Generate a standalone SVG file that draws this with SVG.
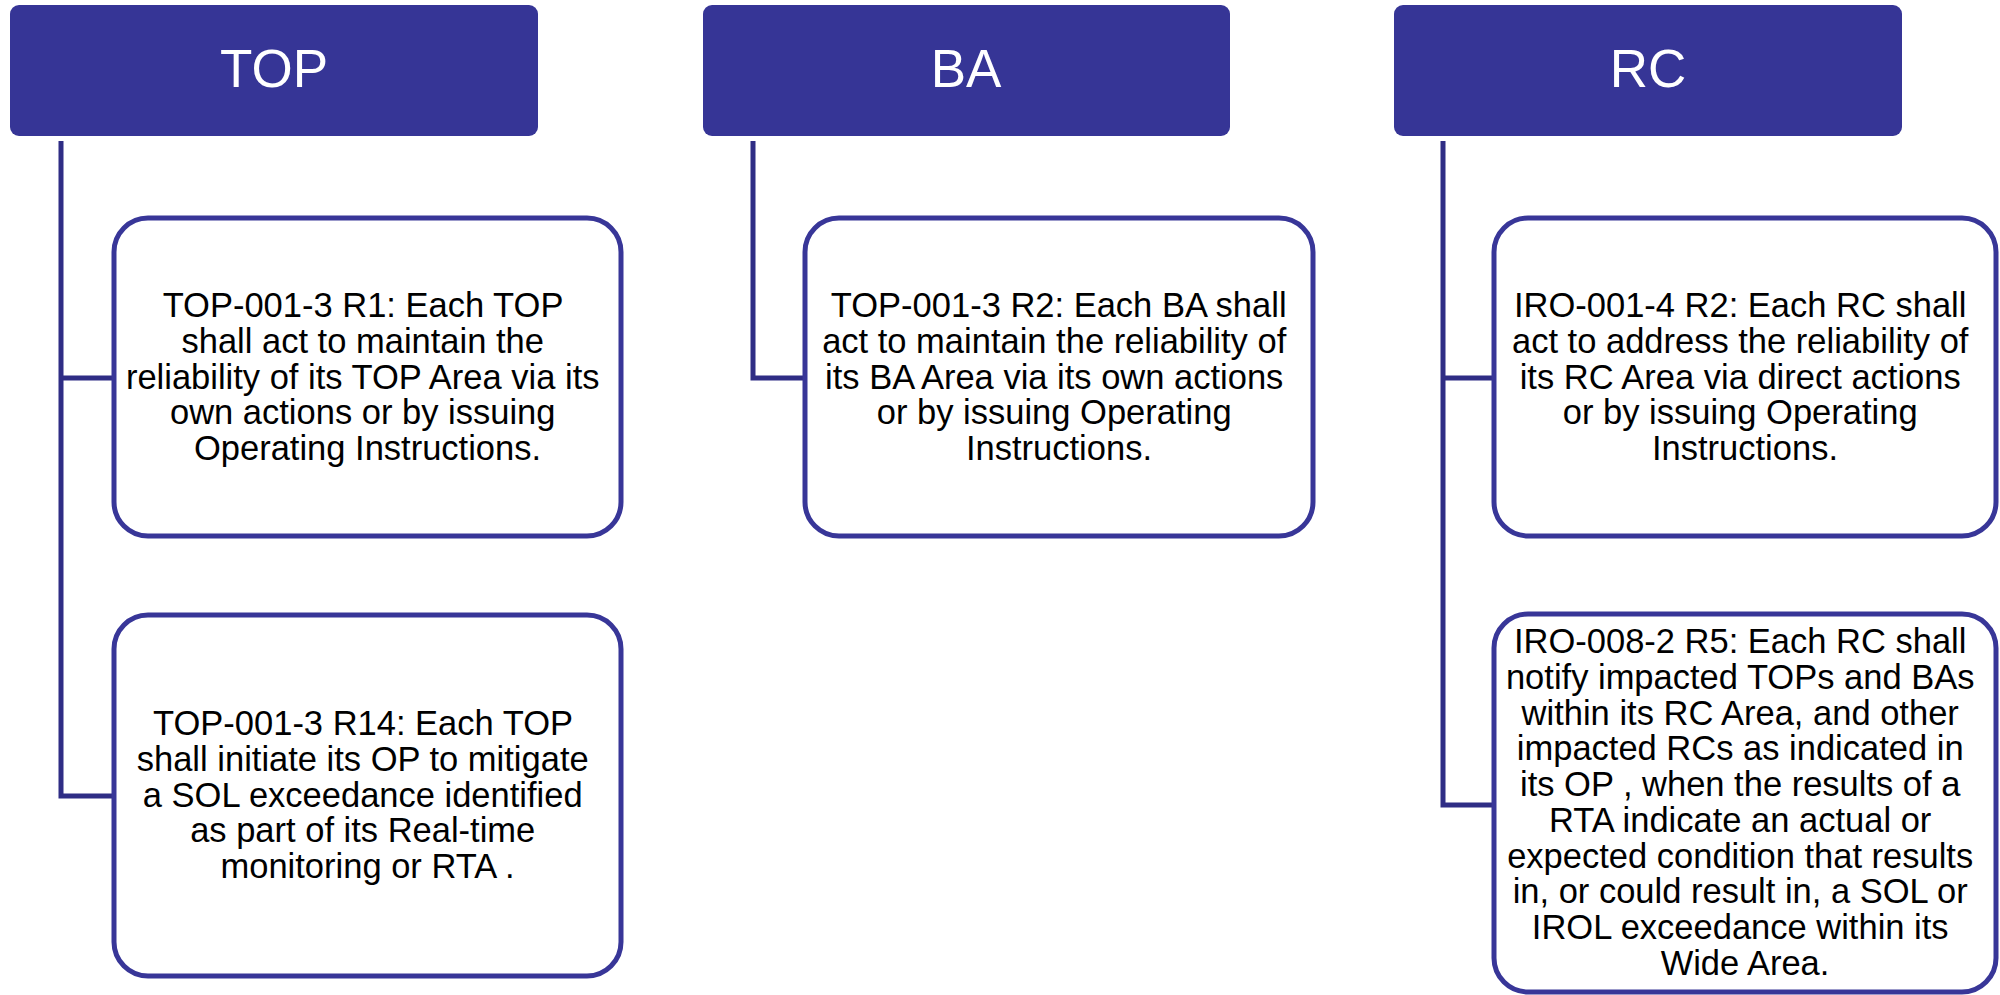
<svg xmlns="http://www.w3.org/2000/svg" width="2000" height="995" viewBox="0 0 2000 995">
  <style>
    .hdr { fill: #363596; }
    .hdr-text { font-family: "Liberation Sans", Arial, sans-serif; font-size: 53px; fill: #ffffff; text-anchor: middle; }
    .box { fill: #ffffff; stroke: #383698; stroke-width: 5; }
    .body { font-family: "Liberation Sans", Arial, sans-serif; font-size: 34.5px; fill: #000000; text-anchor: middle; }
    .conn { fill: none; stroke: #2f2d85; stroke-width: 5; stroke-linejoin: miter; }
  </style>
  <rect width="2000" height="995" fill="#ffffff"/>

  <!-- connectors from each header down to its requirement boxes -->
  <g id="connectors">
    <path class="conn" d="M61,141 V796 H114 M61,378 H114"/>
    <path class="conn" d="M753,141 V378 H805"/>
    <path class="conn" d="M1443,141 V805 H1494 M1443,378 H1494"/>
  </g>

  <!-- column headers -->
  <g id="header-top">
    <rect class="hdr" x="10" y="5" width="528" height="131" rx="9"/>
    <text class="hdr-text" x="274" y="87">TOP</text>
  </g>
  <g id="header-ba">
    <rect class="hdr" x="703" y="5" width="527" height="131" rx="9"/>
    <text class="hdr-text" x="966" y="87">BA</text>
  </g>
  <g id="header-rc">
    <rect class="hdr" x="1394" y="5" width="508" height="131" rx="9"/>
    <text class="hdr-text" x="1648" y="87">RC</text>
  </g>

  <!-- TOP requirements -->
  <g id="top-r1">
    <rect class="box" x="114" y="218" width="507" height="318" rx="34"/>
    <text class="body">
      <tspan x="367.5" y="317">TOP-001-3 R1: Each TOP</tspan>
      <tspan x="367.5" y="353">shall act to maintain the</tspan>
      <tspan x="367.5" y="389">reliability of its TOP Area via its</tspan>
      <tspan x="367.5" y="424">own actions or by issuing</tspan>
      <tspan x="367.5" y="460">Operating Instructions.</tspan>
    </text>
  </g>
  <g id="top-r14">
    <rect class="box" x="114" y="615" width="507" height="361" rx="34"/>
    <text class="body">
      <tspan x="367.5" y="735">TOP-001-3 R14: Each TOP</tspan>
      <tspan x="367.5" y="771">shall initiate its OP to mitigate</tspan>
      <tspan x="367.5" y="807">a SOL exceedance identified</tspan>
      <tspan x="367.5" y="842">as part of its Real-time</tspan>
      <tspan x="367.5" y="878">monitoring or RTA .</tspan>
    </text>
  </g>

  <!-- BA requirement -->
  <g id="ba-r2">
    <rect class="box" x="805" y="218" width="508" height="318" rx="34"/>
    <text class="body">
      <tspan x="1059" y="317" xml:space="preserve"> TOP-001-3 R2: Each BA shall</tspan>
      <tspan x="1059" y="353">act to maintain the reliability of</tspan>
      <tspan x="1059" y="389">its BA Area via its own actions</tspan>
      <tspan x="1059" y="424">or by issuing Operating</tspan>
      <tspan x="1059" y="460">Instructions.</tspan>
    </text>
  </g>

  <!-- RC requirements -->
  <g id="rc-r2">
    <rect class="box" x="1494" y="218" width="502" height="318" rx="34"/>
    <text class="body">
      <tspan x="1745" y="317">IRO-001-4 R2: Each RC shall</tspan>
      <tspan x="1745" y="353">act to address the reliability of</tspan>
      <tspan x="1745" y="389">its RC Area via direct actions</tspan>
      <tspan x="1745" y="424">or by issuing Operating</tspan>
      <tspan x="1745" y="460">Instructions.</tspan>
    </text>
  </g>
  <g id="rc-r5">
    <rect class="box" x="1494" y="614" width="502" height="378" rx="34"/>
    <text class="body">
      <tspan x="1745" y="653">IRO-008-2 R5: Each RC shall</tspan>
      <tspan x="1745" y="689">notify impacted TOPs and BAs</tspan>
      <tspan x="1745" y="725">within its RC Area, and other</tspan>
      <tspan x="1745" y="760">impacted RCs as indicated in</tspan>
      <tspan x="1745" y="796">its OP , when the results of a</tspan>
      <tspan x="1745" y="832">RTA indicate an actual or</tspan>
      <tspan x="1745" y="868">expected condition that results</tspan>
      <tspan x="1745" y="903">in, or could result in, a SOL or</tspan>
      <tspan x="1745" y="939">IROL exceedance within its</tspan>
      <tspan x="1745" y="975">Wide Area.</tspan>
    </text>
  </g>
</svg>
